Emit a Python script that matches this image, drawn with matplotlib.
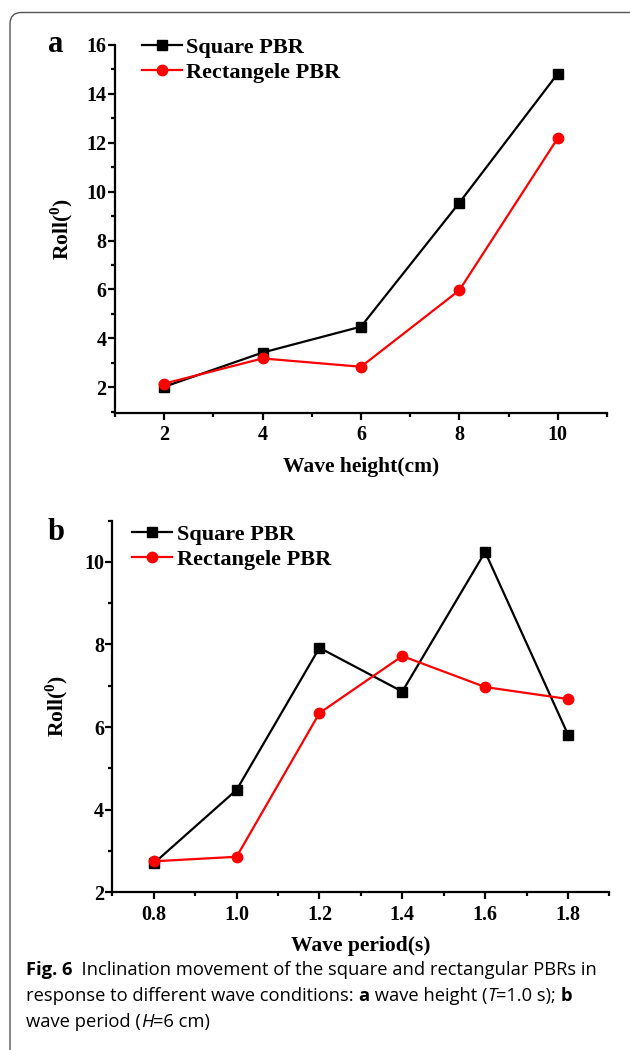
import matplotlib
matplotlib.use("Agg")
import matplotlib.pyplot as plt
from matplotlib.patches import FancyBboxPatch
from matplotlib.ticker import MultipleLocator

# panel a: roll vs wave height (T = 1.0 s)
height_cm = [2, 4, 6, 8, 10]
square_a = [2.02, 3.42, 4.48, 9.55, 14.83]
rect_a = [2.15, 3.18, 2.84, 5.97, 12.19]

# panel b: roll vs wave period (H = 6 cm)
period_s = [0.8, 1.0, 1.2, 1.4, 1.6, 1.8]
square_b = [2.70, 4.48, 7.92, 6.86, 10.24, 5.82]
rect_b = [2.75, 2.86, 6.34, 7.72, 6.97, 6.68]

labels = ["Square PBR", "Rectangele PBR"]

plt.rcParams['font.family'] = ['Liberation Serif', 'DejaVu Serif']
plt.rcParams['font.weight'] = 'bold'
plt.rcParams['mathtext.fontset'] = 'custom'
plt.rcParams['mathtext.rm'] = 'Liberation Serif:bold'
plt.rcParams['mathtext.bf'] = 'Liberation Serif:bold'

fig = plt.figure(figsize=(6.3, 10.5), dpi=100)

# rounded frame, cut off at right and bottom
frame = FancyBboxPatch((10 / 630, -0.05), 1.2, 1.05 - 12.5 / 1050,
                       boxstyle="round,pad=0,rounding_size=0.018",
                       transform=fig.transFigure, fill=False,
                       edgecolor='#555555', linewidth=1.0, mutation_aspect=0.6)
fig.patches.append(frame)

TICK_FS = 14.5
LAB_FS = 15.5
LEG_FS = 16


def style_axes(ax):
    for s in ['top', 'right']:
        ax.spines[s].set_visible(False)
    for s in ['left', 'bottom']:
        ax.spines[s].set_linewidth(1.6)
    ax.tick_params(which='major', direction='out', length=5, width=1.6,
                   labelsize=TICK_FS)
    ax.tick_params(which='minor', direction='out', length=3, width=1.6)
    ax.tick_params(axis='y', pad=1)
    ax.tick_params(axis='x', pad=4)
    for t in ax.get_xticklabels() + ax.get_yticklabels():
        t.set_fontweight('bold')


def draw(ax, x, sq, rc):
    ax.plot(x, sq, color='black', lw=1.6, marker='s', ms=6.5, label=labels[0])
    ax.plot(x, rc, color='#ff0000', lw=1.6, marker='o', ms=7.5, label=labels[1])


# ---- panel a
ax1 = fig.add_axes([0.1825, 0.6067, 0.781, 0.3505])
draw(ax1, height_cm, square_a, rect_a)
ax1.set_xlim(1, 11)
ax1.set_ylim(0.95, 16)
ax1.set_xticks([2, 4, 6, 8, 10])
ax1.xaxis.set_minor_locator(MultipleLocator(1))
ax1.set_yticks([2, 4, 6, 8, 10, 12, 14, 16])
ax1.yaxis.set_minor_locator(MultipleLocator(1))
style_axes(ax1)
ax1.set_xlabel("Wave height(cm)", fontsize=LAB_FS, fontweight='bold', labelpad=8)
ax1.set_ylabel(r"Roll($^\mathbf{0}$)", fontsize=LAB_FS, fontweight='bold', labelpad=8)
ax1.legend(loc='upper left', bbox_to_anchor=(0.055, 1.02), frameon=False,
           prop={'size': LEG_FS, 'weight': 'bold'}, handlelength=1.8,
           handletextpad=0.2, labelspacing=0.2, borderaxespad=0, borderpad=0)
fig.text(48 / 630, 1 - 44 / 1050, "a", fontsize=22, fontweight='bold',
         va='center', ha='left')

# ---- panel b
ax2 = fig.add_axes([0.1783, 0.1502, 0.789, 0.354])
draw(ax2, period_s, square_b, rect_b)
ax2.set_xlim(0.7, 1.9)
ax2.set_ylim(2, 11)
ax2.set_xticks(period_s)
ax2.set_xticklabels([f"{v:.1f}" for v in period_s])
ax2.xaxis.set_minor_locator(MultipleLocator(0.1))
ax2.set_yticks([2, 4, 6, 8, 10])
ax2.yaxis.set_minor_locator(MultipleLocator(1))
style_axes(ax2)
ax2.set_xlabel("Wave period(s)", fontsize=LAB_FS, fontweight='bold', labelpad=8)
ax2.set_ylabel(r"Roll($^\mathbf{0}$)", fontsize=LAB_FS, fontweight='bold', labelpad=10)
ax2.legend(loc='upper left', bbox_to_anchor=(0.04, 0.99), frameon=False,
           prop={'size': LEG_FS, 'weight': 'bold'}, handlelength=1.8,
           handletextpad=0.2, labelspacing=0.2, borderaxespad=0, borderpad=0)
fig.text(48 / 630, 1 - 533 / 1050, "b", fontsize=22, fontweight='bold',
         va='center', ha='left')

# ---- caption, written piece by piece
cap_font = ['Open Sans', 'DejaVu Sans']
CAP_FS = 13.2
fig.canvas.draw()
renderer = fig.canvas.get_renderer()


def cap_line(y_px, pieces, x_px=26):
    x = x_px
    for txt, weight, style in pieces:
        t = fig.text(x / 630, 1 - y_px / 1050, txt, fontsize=CAP_FS,
                     va='center', ha='left', family=cap_font,
                     fontweight=weight, fontstyle=style)
        x = t.get_window_extent(renderer).x1


cap_line(970, [("Fig. 6", 'bold', 'normal'),
               ("  Inclination movement of the square and rectangular PBRs in",
                'normal', 'normal')])
cap_line(996, [("response to different wave conditions: ", 'normal', 'normal'),
               ("a", 'bold', 'normal'),
               (" wave height (", 'normal', 'normal'),
               ("T", 'normal', 'italic'),
               ("=1.0 s); ", 'normal', 'normal'),
               ("b", 'bold', 'normal')])
cap_line(1022, [("wave period (", 'normal', 'normal'),
                ("H", 'normal', 'italic'),
                ("=6 cm)", 'normal', 'normal')])

fig.savefig("out.png", dpi=100)
